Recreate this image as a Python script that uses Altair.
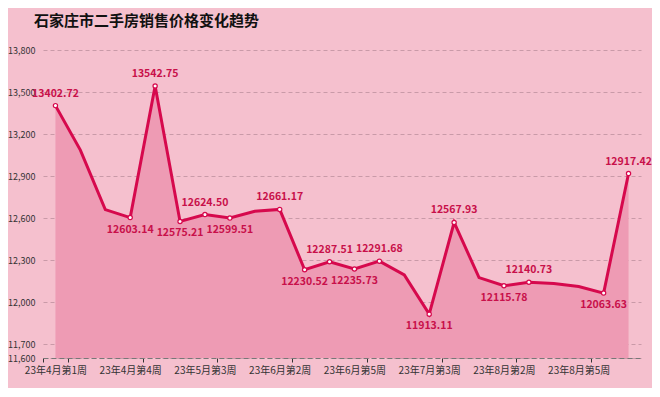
import altair as alt
import pandas as pd

weeks = [
    "23年4月第1周", "23年4月第2周", "23年4月第3周", "23年4月第4周",
    "23年5月第1周", "23年5月第2周", "23年5月第3周", "23年5月第4周",
    "23年6月第1周", "23年6月第2周", "23年6月第3周", "23年6月第4周",
    "23年6月第5周", "23年7月第1周", "23年7月第2周", "23年7月第3周",
    "23年7月第4周", "23年8月第1周", "23年8月第2周", "23年8月第3周",
    "23年8月第4周", "23年8月第5周", "23年9月第1周", "23年9月第2周",
]
prices = [
    13402.72, 13085.00, 12660.00, 12603.14,
    13542.75, 12575.21, 12624.50, 12599.51,
    12648.00, 12661.17, 12230.52, 12287.51,
    12235.73, 12291.68, 12193.00, 11913.11,
    12567.93, 12174.00, 12115.78, 12140.73,
    12132.00, 12110.00, 12063.63, 12917.42,
]
# which points carry a value label, and on which side
label_side = [
    "above", "", "", "below",
    "above", "below", "above", "below",
    "", "above", "below", "above",
    "below", "above", "", "below",
    "above", "", "below", "above",
    "", "", "below", "above",
]
y_ticks = [11600, 11700, 12000, 12300, 12600, 12900, 13200, 13500, 13800]
x_label_weeks = weeks[0::3]

df = pd.DataFrame({"week": weeks, "price": prices, "side": label_side})
df["label"] = [f"{p:.2f}" if s else "" for p, s in zip(prices, label_side)]

FONT = "Noto Sans CJK SC"
LINE = "#d6094d"
AREA = "#ee9bb4"
TXT = "#c8104a"

xenc = alt.X(
    "week:O",
    sort=weeks,
    bandPosition=0.5,
    scale=alt.Scale(type="band", paddingInner=0, paddingOuter=0),
    axis=alt.Axis(
        values=x_label_weeks,
        tickBand="extent",
        labelAngle=0,
        title=None,
        labelFont=FONT,
        labelFontSize=10,
        labelColor="#333333",
        labelPadding=3,
        tickSize=4,
        tickColor="#333333",
        domainColor="#777777",
        domainDash=[5, 3],
        grid=False,
    ),
)
yscale = alt.Scale(domain=[11600, 13800], nice=False, zero=False)
yenc = alt.Y(
    "price:Q",
    scale=yscale,
    axis=alt.Axis(
        values=y_ticks,
        format=",.0f",
        title=None,
        labelFont=FONT,
        labelFontSize=9,
        labelColor="#333333",
        labelPadding=8,
        domain=False,
        ticks=False,
        grid=True,
        gridColor="#c99aa8",
        gridDash=[4, 3],
        gridWidth=1,
    ),
)

base = alt.Chart(df)

area = base.mark_area(color=AREA, opacity=1).encode(
    x=xenc, y=yenc, y2=alt.datum(11600)
)
line = base.mark_line(color=LINE, strokeWidth=3).encode(x=xenc, y=yenc)
pts = base.transform_filter("datum.side != ''").mark_point(
    shape="circle", filled=True, fill="white", stroke=LINE, strokeWidth=1.2, size=18, opacity=1
).encode(x=xenc, y=yenc)
above = base.transform_filter("datum.side == 'above'").mark_text(
    font=FONT, fontSize=10.5, fontWeight="bold", color=TXT, baseline="middle", dy=-12
).encode(x=xenc, y=yenc, text="label:N")
below = base.transform_filter("datum.side == 'below'").mark_text(
    font=FONT, fontSize=10.5, fontWeight="bold", color=TXT, baseline="middle", dy=12
).encode(x=xenc, y=yenc, text="label:N")

chart = (
    alt.layer(area, line, pts, above, below)
    .properties(
        width=598,
        height=308,
        autosize=alt.AutoSizeParams(type="none"),
        padding={"left": 35, "top": 42, "right": 11, "bottom": 30},
        background="#f5c0ce",
        title=alt.TitleParams(
            "石家庄市二手房销售价格变化趋势",
            anchor="start",
            frame="group",
            font=FONT,
            fontSize=15,
            fontWeight="bold",
            color="#111111",
            dx=-9,
            offset=17,
        ),
    )
    .configure_view(stroke=None)
)

chart.save("out.html", embed_options={"renderer": "svg", "actions": False})
